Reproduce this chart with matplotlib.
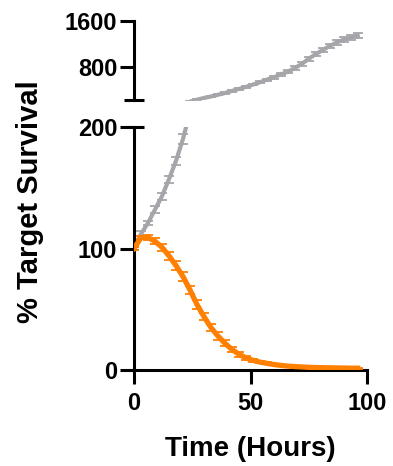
import matplotlib
matplotlib.use("Agg")
import matplotlib.pyplot as plt
import numpy as np

plt.rcParams['font.family'] = ['Liberation Sans', 'DejaVu Sans']
plt.rcParams['font.weight'] = 'bold'

time_h = [0, 3, 6, 9, 12, 15, 18, 21, 24, 27, 30, 33, 36, 39, 42, 45, 48,
          51, 54, 57, 60, 63, 66, 69, 72, 75, 78, 81, 84, 87, 90, 93, 96]
orange_vals = [100, 109, 109, 106, 101, 94, 86, 77, 66, 54, 44, 35, 28, 22, 17, 13, 10,
               8, 6.5, 5.5, 4.5, 3.8, 3.2, 2.8, 2.5, 2.2, 2.0, 1.9, 1.8, 1.7, 1.6, 1.5, 1.5]
orange_err = [1, 1.5, 2, 2.5, 3, 3.5, 3.5, 3.5, 3.5, 3.5, 3, 3, 3, 2.5, 2, 2, 1.5,
              1.2, 1, 0.8, 0.7, 0.6, 0.5, 0.5, 0.4, 0.4, 0.4, 0.3, 0.3, 0.3, 0.3, 0.3, 0.3]
grey_vals = [100, 112, 121, 132, 143, 157, 172, 190, 212, 245, 275, 300, 330, 360, 395, 430, 465,
             505, 545, 590, 630, 680, 725, 790, 860, 950, 1030, 1100, 1170, 1230, 1280, 1320, 1350]
grey_err = [1, 2, 2, 3, 3, 3, 3, 4, 5, 6, 7, 8, 9, 10, 11, 12, 14,
            15, 16, 18, 20, 22, 25, 28, 30, 33, 36, 38, 40, 42, 44, 45, 46]

orange = '#FF7F00'
grey = '#A6A6AA'

fig = plt.figure(figsize=(3.93, 4.66), dpi=100)
L, W = 134/393, (367-134)/393
ax_b = fig.add_axes([L, 96/466, W, (370-127)/466])
ax_t = fig.add_axes([L, 366/466, W, (445-366)/466])

for ax in (ax_b, ax_t):
    for vals, err, c, z, lw in ((grey_vals, grey_err, grey, 2, 3.0),
                                (orange_vals, orange_err, orange, 3, 3.8)):
        ax.errorbar(time_h, vals, yerr=err, color=c, lw=lw, elinewidth=1.3,
                    capsize=3.5, capthick=1.3, zorder=z)
    ax.spines['top'].set_visible(False)
    ax.spines['right'].set_visible(False)
    ax.spines['left'].set_linewidth(2.2)
    ax.spines['bottom'].set_linewidth(2.2)
    ax.tick_params(width=2.2, length=10, labelsize=17, pad=2)
    ax.tick_params(axis='x', pad=6)
    ax.set_xlim(0, 100)

ax_b.set_ylim(0, 200)
ax_b.set_yticks([0, 100, 200])
ax_b.set_xticks([0, 50, 100])
ax_t.set_ylim(240, 1600)
ax_t.set_yticks([800, 1600])
ax_t.spines['bottom'].set_visible(False)
ax_t.tick_params(axis='x', bottom=False, labelbottom=False)
for ax in (ax_b, ax_t):
    for lab in ax.get_yticklabels() + ax.get_xticklabels():
        lab.set_fontweight('bold')

# break caps
ax_t.plot([0], [0], marker='_', ms=14, mew=2.2, color='black',
          transform=ax_t.transAxes, clip_on=False)
ax_b.plot([0], [1], marker='_', ms=14, mew=2.2, color='black',
          transform=ax_b.transAxes, clip_on=False)

fig.text((134+367)/2/393, 1 - 456/466, 'Time (Hours)', ha='center', va='baseline',
         fontsize=20, fontweight='bold')
fig.text(30/393, 1 - 202/466, '% Target Survival', rotation=90, ha='center', va='center',
         fontsize=21, fontweight='bold')

fig.savefig('out.png', dpi=100)
